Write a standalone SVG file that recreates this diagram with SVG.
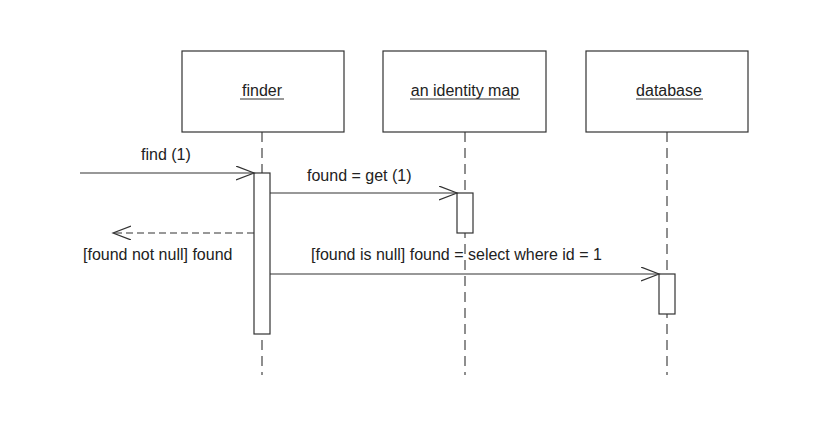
<svg xmlns="http://www.w3.org/2000/svg" width="833" height="437" viewBox="0 0 833 437">
<style>
text{font-family:"Liberation Sans",Arial,sans-serif;font-size:16px;fill:#222}
.box{fill:#fff;stroke:#333;stroke-width:1.2}
.life{stroke:#444;stroke-width:1.2;stroke-dasharray:10 6;fill:none}
.msg{stroke:#333;stroke-width:1.2;fill:none}
.ret{stroke:#333;stroke-width:1.2;stroke-dasharray:7 4;fill:none}
.u{stroke:#333;stroke-width:1}
</style>
<defs>
<marker id="open" markerWidth="20" markerHeight="16" refX="18" refY="7" orient="auto" markerUnits="userSpaceOnUse">
<path d="M0,0 L18,7 L0,14" fill="none" stroke="#333" stroke-width="1.2"/>
</marker>
</defs>
<rect width="833" height="437" fill="#fff"/>
<g id="lifelines">
<line class="life" x1="262" y1="132" x2="262" y2="375"/>
<line class="life" x1="465" y1="132" x2="465" y2="375"/>
<line class="life" x1="667" y1="132" x2="667" y2="375"/>
</g>
<g id="finder">
<rect class="box" x="182" y="51" width="162" height="81"/>
<text x="262" y="96" text-anchor="middle">finder</text>
<line class="u" x1="240" y1="99" x2="284" y2="99"/>
</g>
<g id="identity-map">
<rect class="box" x="383" y="51" width="163" height="81"/>
<text x="465" y="96" text-anchor="middle">an identity map</text>
<line class="u" x1="410" y1="99" x2="520" y2="99"/>
</g>
<g id="database">
<rect class="box" x="586" y="51" width="162" height="81"/>
<text x="669" y="96" text-anchor="middle">database</text>
<line class="u" x1="636" y1="99" x2="703" y2="99"/>
</g>
<g id="activations">
<rect class="box" x="254" y="173" width="16" height="161"/>
<rect class="box" x="457" y="193" width="16" height="40"/>
<rect class="box" x="659" y="274" width="16" height="40"/>
</g>
<g id="connectors">
<line class="msg" x1="80" y1="173" x2="254" y2="173" marker-end="url(#open)"/>
<line class="msg" x1="270" y1="193" x2="457" y2="193" marker-end="url(#open)"/>
<line class="ret" x1="254" y1="233" x2="113" y2="233" marker-end="url(#open)"/>
<line class="msg" x1="270" y1="274" x2="659" y2="274" marker-end="url(#open)"/>
</g>
<g id="labels">
<text x="141" y="160">find (1)</text>
<text x="307" y="181">found = get (1)</text>
<text x="83" y="260">[found not null] found</text>
<text x="311" y="260">[found is null] found = select where id = 1</text>
</g>
</svg>
